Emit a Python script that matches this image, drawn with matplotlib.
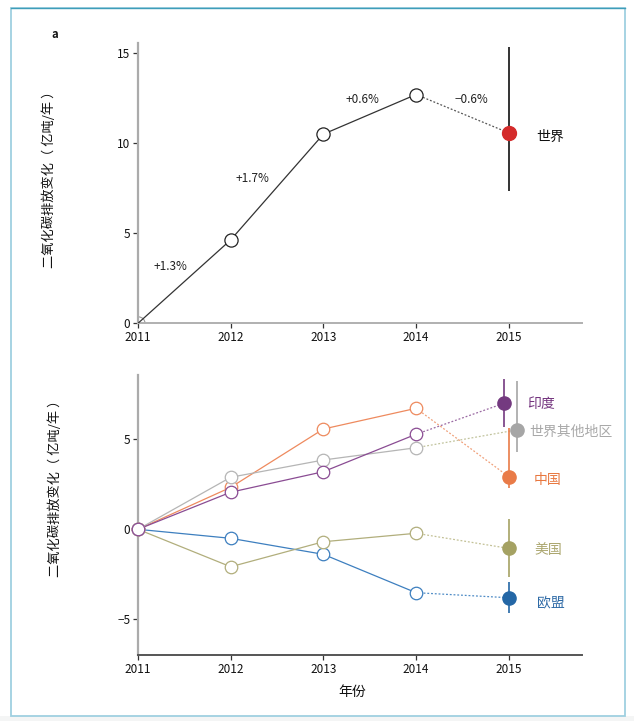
import matplotlib
matplotlib.use("Agg")
import matplotlib.pyplot as plt
from matplotlib.patches import Rectangle
from matplotlib.lines import Line2D

plt.rcParams['font.family'] = ['Noto Sans CJK SC', 'DejaVu Sans']

# ---------------- data ----------------
years = [2011, 2012, 2013, 2014]
year_2015 = 2015
x_ticks = [2011, 2012, 2013, 2014, 2015]

world = [0, 4.63, 10.5, 12.7]
world_2015 = 10.57
world_2015_range = (7.37, 15.33)
growth_labels = ["+1.3%", "+1.7%", "+0.6%", "−0.6%"]
world_name = "世界"

regions = ["印度", "世界其他地区", "中国", "美国", "欧盟"]
india = [0, 2.06, 3.2, 5.28]
rest = [0, 2.89, 3.85, 4.53]
china = [0, 2.33, 5.57, 6.72]
usa = [0, -2.08, -0.69, -0.22]
eu = [0, -0.5, -1.39, -3.52]
values_2015 = [7.0, 5.52, 2.92, -1.06, -3.8]
ranges_2015 = [(5.67, 8.33), (4.31, 8.24), (2.28, 5.6), (-2.67, 0.56), (-4.67, -2.91)]

top_yticks = [0, 5, 10, 15]
bot_yticks = [-5, 0, 5]
ylabel = "二氧化碳排放变化（ 亿吨/年 ）"
xlabel = "年份"

# ---------------- figure ----------------
W, H = 634, 721
fig = plt.figure(figsize=(W / 100, H / 100), dpi=100)

# frame
fig.patches.append(Rectangle((0, 0), 1, 5.5 / H, transform=fig.transFigure,
                             facecolor='#f4f5f5', edgecolor='none', zorder=0))
fig.patches.append(Rectangle((10.5 / W, 5.5 / H), (624.5 - 10.5) / W, (713.5 - 5.5) / H,
                             transform=fig.transFigure, facecolor='none',
                             edgecolor='#9fd0e0', linewidth=1.3, zorder=1))
fig.lines.append(Line2D([10.5 / W, 624.5 / W], [713.5 / H, 713.5 / H], transform=fig.transFigure,
                        color='#3e9db9', linewidth=1.0, zorder=2))

xl = (2011.0, 2015.79)
ax1 = fig.add_axes([138 / W, 1 - 323.3 / H, (582 - 138) / W, (323.3 - 43) / H])
ax2 = fig.add_axes([138 / W, 1 - 655 / H, (582 - 138) / W, (655 - 375) / H])

for ax in (ax1, ax2):
    ax.set_xlim(*xl)
    ax.set_xticks(x_ticks)
    ax.set_xticklabels([str(t) for t in x_ticks])
    for s in ('top', 'right'):
        ax.spines[s].set_visible(False)
    ax.spines['left'].set_color('#ababab')
    ax.spines['left'].set_linewidth(1.6)
    ax.tick_params(axis='both', labelsize=8.5, length=3.5, width=0.9, color='#333333',
                   labelcolor='#111111', pad=2)
    ax.set_facecolor('none')

ax1.spines['bottom'].set_color('#b0b0b0')
ax1.spines['bottom'].set_linewidth(1.4)
ax2.spines['bottom'].set_color('#555555')
ax2.spines['bottom'].set_linewidth(1.4)

# ---- top panel ----
ax1.set_ylim(0, 15.56)
ax1.set_yticks(top_yticks)
ax1.set_yticklabels([str(t) for t in top_yticks])

ax1.plot(years, world, color='#333333', lw=0.9, zorder=3)
ax1.plot(years[1:], world[1:], ls='none', marker='o', ms=9.5, mfc='white', mec='#222222',
         mew=0.9, zorder=4)
ax1.plot(years[:1], world[:1], ls='none', marker='o', ms=9.5, mfc='white', mec='#999999',
         mew=0.8, zorder=1, clip_on=True)
ax1.plot([years[-1], year_2015], [world[-1], world_2015], color='#555555', lw=0.9,
         ls=(0, (1.5, 1.5)), zorder=3)
ax1.vlines(year_2015, *world_2015_range, color='#111111', lw=1.2, zorder=3)
ax1.plot([year_2015], [world_2015], ls='none', marker='o', ms=10, mfc='#d42b2b',
         mec='#d42b2b', zorder=5)
ax1.text(2015.3, 10.35, world_name, fontsize=10, color='#111111', ha='left', va='center')

pct_pos = [(2011.35, 3.15), (2012.24, 8.03), (2013.42, 12.4), (2014.6, 12.4)]
for (px, py), lab in zip(pct_pos, growth_labels):
    ax1.text(px, py, lab, fontsize=8.5, color='#222222', ha='center', va='center')

# ---- bottom panel ----
ax2.set_ylim(-6.98, 8.57)
ax2.set_yticks(bot_yticks)
ax2.set_yticklabels(['−5', '0', '5'])

series = [india, rest, china, usa, eu]
line_cols = ['#8a4c93', '#b5b5b5', '#ee8a5e', '#b1ae7c', '#3d7fbf']
dash_cols = ['#9b6aa3', '#c2c49e', '#f0a07a', '#c3c196', '#4f8cc6']
fill_cols = ['#743a80', '#a6a6a6', '#e97b48', '#a5a263', '#2467a6']
text_cols = ['#74357f', '#a9a9a9', '#e8773f', '#aba66e', '#2e6aa6']
x_off = [-0.05, 0.085, 0.0, 0.0, 0.0]
label_pos = [(2015.2, 6.97), (2015.22, 5.39), (2015.27, 2.74), (2015.28, -1.15), (2015.3, -4.06)]
z_order = [5, 4, 3, 2, 1]

for name, vals, v15, rng, lc, dc, fc, tc, dx, (lx, ly), zz in zip(
        regions, series, values_2015, ranges_2015, line_cols, dash_cols, fill_cols,
        text_cols, x_off, label_pos, z_order):
    ax2.plot(years, vals, color=lc, lw=0.9, zorder=3 + zz * 0.1)
    ax2.plot(years, vals, ls='none', marker='o', ms=9, mfc='white', mec=lc, mew=0.9,
             zorder=4 + zz * 0.1, clip_on=False)
    ax2.plot([years[-1], year_2015 + dx], [vals[-1], v15], color=dc, lw=0.9,
             ls=(0, (1.5, 1.5)), zorder=3)
    ax2.vlines(year_2015 + dx, *rng, color=fc, lw=1.2, zorder=5)
    ax2.plot([year_2015 + dx], [v15], ls='none', marker='o', ms=9.5, mfc=fc, mec=fc,
             zorder=6)
    ax2.text(lx, ly, name, fontsize=10, color=tc, ha='left', va='center')

# labels
fig.text(49 / W, 1 - 176 / H, ylabel, rotation=90, fontsize=9.5, color='#111111',
         ha='center', va='center')
fig.text(55 / W, 1 - 485 / H, ylabel, rotation=90, fontsize=9.5, color='#111111',
         ha='center', va='center')
fig.text(352 / W, 1 - 692 / H, xlabel, fontsize=10, color='#111111', ha='center', va='center')
fig.text(55 / W, 1 - 35 / H, 'a', fontsize=8, fontweight='bold', color='#111111',
         ha='center', va='center')

fig.savefig('out.png', dpi=100)
